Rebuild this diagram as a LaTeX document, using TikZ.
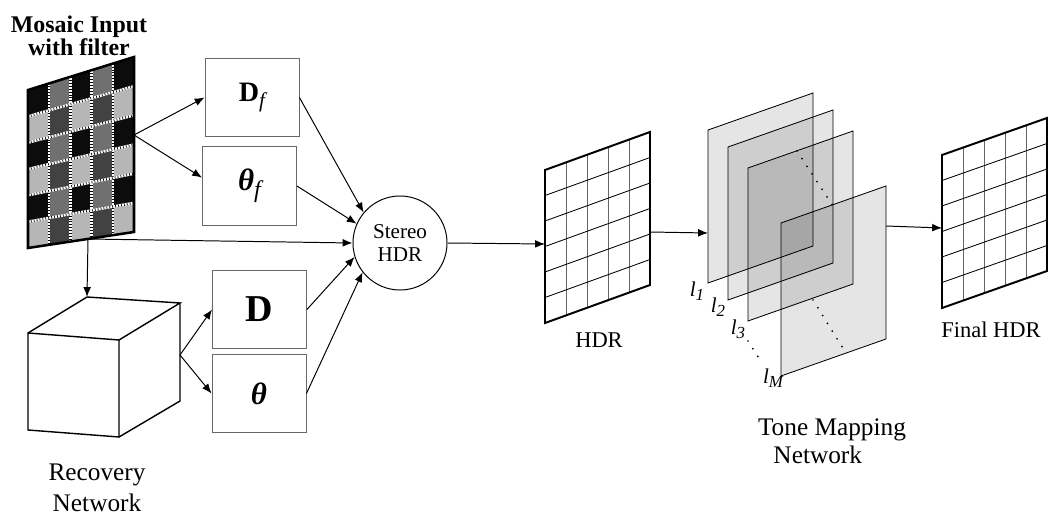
\documentclass[tikz,border=0pt]{standalone}
\usepackage{fontspec}
\setmainfont{Liberation Serif}
\usetikzlibrary{arrows.meta,calc}
\definecolor{cell0}{RGB}{12,12,12}
\definecolor{cell1}{RGB}{112,112,112}
\definecolor{cell2}{RGB}{182,182,182}
\definecolor{cell3}{RGB}{66,66,66}
\definecolor{edgegray}{RGB}{105,105,105}

\begin{document}
\begin{tikzpicture}[
    x=0.025cm, y=-0.025cm,
    declare function={mx(\u)=28+21.2*\u; my(\u,\v)=90-6.6*\u+26.33*\v+0.567*\u*\v;},
    box/.style={draw=edgegray, line width=0.6pt, minimum width=2.35cm, minimum height=1.97cm, inner sep=0pt},
    arrow/.style={-{Latex[length=7pt,width=5.5pt]}, line width=0.7pt},
    lbl/.style={align=center, font=\fontsize{16pt}{18pt}\selectfont},
    layerlbl/.style={font=\fontsize{15pt}{15pt}\selectfont\itshape, inner sep=0pt},
    frame/.style={line width=1.4pt, line join=miter},
    gridline/.style={line width=0.6pt},
    layer/.style={draw, line width=0.6pt, fill=black, fill opacity=0.1},
    dots/.style={line width=1.4pt, line cap=round, dash pattern=on 0pt off 6.5pt}
]
\useasboundingbox (0,0) rectangle (1052,518);

% Mosaic input with filter
\foreach \j in {0,...,5}
  \foreach \i in {0,...,4} {
    \pgfmathtruncatemacro\t{2*mod(\j,2)+mod(\i,2)}
    \fill[fill=cell\t] ({mx(\i)},{my(\i,\j)}) -- ({mx(\i+1)},{my(\i+1,\j)})
      -- ({mx(\i+1)},{my(\i+1,\j+1)}) -- ({mx(\i)},{my(\i,\j+1)}) -- cycle;
  }
\foreach \i in {1,...,4} {
  \draw[white, line width=1.8pt] ({mx(\i)},{my(\i,0)}) -- ({mx(\i)},{my(\i,6)});
  \draw[black, line width=1.8pt, dash pattern=on 0.5pt off 1.6pt] ({mx(\i)},{my(\i,0)}) -- ({mx(\i)},{my(\i,6)});
}
\foreach \j in {1,...,5} {
  \draw[white, line width=1.8pt] ({mx(0)},{my(0,\j)}) -- ({mx(5)},{my(5,\j)});
  \draw[black, line width=1.8pt, dash pattern=on 0.5pt off 1.6pt] ({mx(0)},{my(0,\j)}) -- ({mx(5)},{my(5,\j)});
}
\draw[line width=1.8pt] ({mx(0)},{my(0,0)}) -- ({mx(5)},{my(5,0)}) -- ({mx(5)},{my(5,6)}) -- ({mx(0)},{my(0,6)}) -- cycle;
\coordinate (mosR) at (134,135);
\coordinate (split) at (88,239);
\node[lbl, font=\fontsize{17pt}{14pt}\selectfont\bfseries] (mostitle) at (79,36) {Mosaic Input\\with filter};

% Recovery network (cube)
\draw[line width=1pt, line join=miter] (28,333) -- (119,340) -- (119,437) -- (28,430) -- cycle;
\draw[line width=1pt, line join=miter] (28,333) -- (87,297) -- (180,303) -- (119,340);
\draw[line width=1pt, line join=miter] (180,303) -- (180,401) -- (119,437);
\coordinate (cubetop) at (87,297);
\coordinate (cubeR) at (180,355);
\node[lbl, font=\fontsize{18pt}{22pt}\selectfont] (reclbl) at (97,488) {Recovery\\Network};

% Disparity and angle boxes
\node[box] (Df) at (252,97.5) {\fontsize{20pt}{20pt}\selectfont\bfseries D\raisebox{-4pt}{\fontsize{15pt}{15pt}\selectfont\mdseries\itshape f}};
\node[box] (thf) at (249.5,186) {\fontsize{22pt}{22pt}\selectfont\bfseries\itshape θ\raisebox{-5pt}{\fontsize{17pt}{17pt}\selectfont\mdseries f}};
\node[box] (D) at (259.5,309.5) {\fontsize{27pt}{27pt}\selectfont\bfseries D};
\node[box] (th) at (259,393.5) {\fontsize{22pt}{22pt}\selectfont\bfseries\itshape θ};

% Stereo HDR
\node[draw, circle, line width=0.7pt, minimum size=2.35cm, inner sep=0pt, align=center,
      font=\fontsize{15pt}{17pt}\selectfont] (stereo) at (400,243) {Stereo\\HDR};

% HDR grid
\begin{scope}[shift={(545,170)}]
\foreach \i in {1,...,4} \draw[gridline, black!60] ({21*\i},{-7.6*\i}) -- ++(0,153);
\foreach \j in {1,...,5} \draw[gridline] (0,{25.5*\j}) -- ++(105,-38);
\draw[frame] (0,0) -- (105,-38) -- (105,115) -- (0,153) -- cycle;
\end{scope}
\coordinate (hdrL) at (545,244);
\coordinate (hdrR) at (650,232);
\node[lbl] (hdrlbl) at (599,340) {HDR};

% Tone mapping layers
\foreach \px/\py in {708/130, 728/147, 748/168, 781/223}
  \draw[layer] (\px,\py) -- ++(105,-37) -- ++(0,153) -- ++(-105,37) -- cycle;
\draw[dots] (797,151) -- (833,206);
\draw[dots] (813,300) -- (844,350);
\draw[dots] (748,341) -- (760,360);
\coordinate (l1L) at (708,233);
\coordinate (lmR) at (886,226);
\node[layerlbl] (l1) at (697,291) {l\raisebox{-3pt}{\fontsize{12pt}{12pt}\selectfont 1}};
\node[layerlbl] (l2) at (718,307) {l\raisebox{-3pt}{\fontsize{12pt}{12pt}\selectfont 2}};
\node[layerlbl] (l3) at (738,329) {l\raisebox{-3pt}{\fontsize{12pt}{12pt}\selectfont 3}};
\node[layerlbl] (lM) at (773,378) {l\raisebox{-3pt}{\fontsize{12pt}{12pt}\selectfont M}};
\node[align=left, font=\fontsize{18pt}{20pt}\selectfont] (tonelbl) at (832,441) {Tone Mapping\\\hspace*{11pt}Network};

% Final HDR grid
\begin{scope}[shift={(942,155)}]
\foreach \i in {1,...,4} \draw[gridline, black!60] ({21*\i},{-7.4*\i}) -- ++(0,153);
\foreach \j in {1,...,5} \draw[gridline] (0,{25.5*\j}) -- ++(105,-37);
\draw[frame] (0,0) -- (105,-37) -- (105,116) -- (0,153) -- cycle;
\end{scope}
\coordinate (finL) at (942,228);
\node[lbl] (finlbl) at (991,330) {Final HDR};

% Connections
\draw[arrow] (mosR) -- (Df.west);
\draw[arrow] (mosR) -- (thf.170);
\draw[arrow] (split) -- (stereo.west);
\draw[arrow] (split) -- (cubetop);
\draw[arrow] (Df.east) -- (stereo.140);
\draw[arrow] (thf.east) -- (stereo.156);
\draw[arrow] (cubeR) -- (D.west);
\draw[arrow] (cubeR) -- (th.west);
\draw[arrow] (D.east) -- (stereo.197);
\draw[arrow] (th.east) -- (stereo.218);
\draw[arrow] (stereo.east) -- (hdrL);
\draw[arrow] (hdrR) -- (l1L);
\draw[arrow] (lmR) -- (finL);

\end{tikzpicture}
\end{document}
